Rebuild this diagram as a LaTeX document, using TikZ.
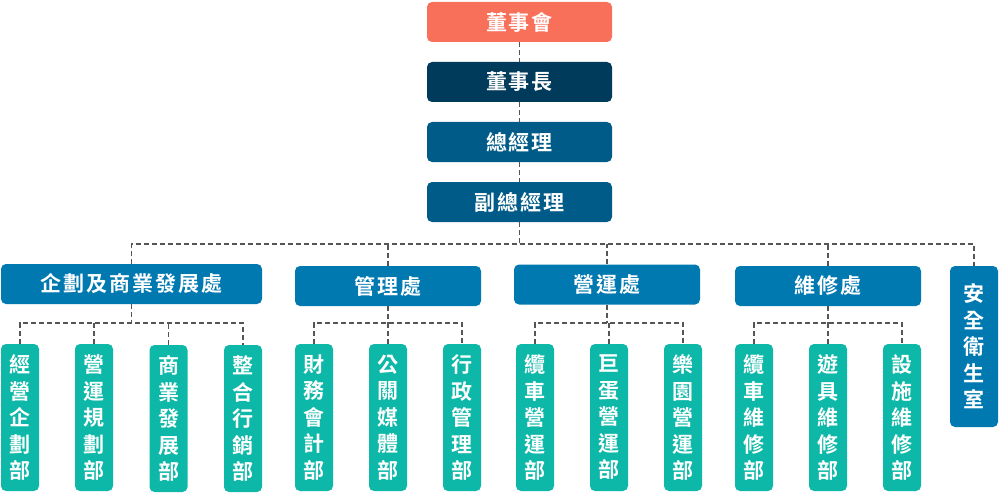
\documentclass[tikz,border=0pt]{standalone}
\usepackage{fontspec}
\setmainfont{Noto Sans CJK TC}[LetterSpace=9, BoldFont={Noto Sans CJK TC Bold}]
\newfontfamily\vt{Noto Sans CJK TC}[BoldFont={Noto Sans CJK TC Bold}]
\definecolor{cBoard}{HTML}{F9705A}
\definecolor{cChair}{HTML}{003B5C}
\definecolor{cGM}{HTML}{005B88}
\definecolor{cDiv}{HTML}{0079B1}
\definecolor{cDept}{HTML}{0DB8A8}
\definecolor{lineGray}{HTML}{555555}
\begin{document}
\begin{tikzpicture}[x=1pt,y=-1pt,
  box/.style={rectangle, rounded corners=5pt, inner sep=0pt, text=white,
    font=\bfseries\fontsize{21}{24}\selectfont},
  topbox/.style={box, minimum width=185pt, minimum height=40pt},
  divbox/.style={box, fill=cDiv, minimum height=40pt},
  vbox/.style={box, align=center, minimum width=38pt,
    font=\vt\bfseries\fontsize{21}{26.5}\selectfont},
  deptbox/.style={vbox, fill=cDept, minimum height=147pt},
  link/.style={draw=lineGray, line width=1.6pt, dash pattern=on 5pt off 3pt}
]
\useasboundingbox (0,0) rectangle (1003,500);

% top chain
\node[topbox, fill=cBoard] (n1) at (519.5,22) {董事會};
\node[topbox, fill=cChair] (n2) at (519.5,82) {董事長};
\node[topbox, fill=cGM] (n3) at (519.5,142) {總經理};
\node[topbox, fill=cGM] (n4) at (519.5,202) {副總經理};

% divisions
\node[divbox, minimum width=261pt] (d1) at (131.5,284) {企劃及商業發展處};
\node[divbox, minimum width=186pt] (d2) at (388,286) {管理處};
\node[divbox, minimum width=186pt] (d3) at (607,284.5) {營運處};
\node[divbox, minimum width=186pt] (d4) at (828,286) {維修處};
\node[vbox, fill=cDiv, minimum width=48pt, minimum height=161pt] (d5) at (974,346.5) {安\\全\\衛\\生\\室};

% departments
\node[deptbox] (e11) at (20,417.5) {經\\營\\企\\劃\\部};
\node[deptbox] (e12) at (94,417.5) {營\\運\\規\\劃\\部};
\node[deptbox] (e13) at (168.5,418.5) {商\\業\\發\\展\\部};
\node[deptbox] (e14) at (243,418.5) {整\\合\\行\\銷\\部};

\node[deptbox] (e21) at (314,417.5) {財\\務\\會\\計\\部};
\node[deptbox] (e22) at (388,417.5) {公\\關\\媒\\體\\部};
\node[deptbox] (e23) at (462,417.5) {行\\政\\管\\理\\部};

\node[deptbox] (e31) at (535,417.5) {纜\\車\\營\\運\\部};
\node[deptbox] (e32) at (609,417.5) {巨\\蛋\\營\\運\\部};
\node[deptbox] (e33) at (683,417.5) {樂\\園\\營\\運\\部};

\node[deptbox] (e41) at (754,417.5) {纜\\車\\維\\修\\部};
\node[deptbox] (e42) at (828,417.5) {遊\\具\\維\\修\\部};
\node[deptbox] (e43) at (902,417.5) {設\\施\\維\\修\\部};

% connectors
\coordinate (bar) at (519.5,244);
\coordinate (sub) at (0,323);
\draw[link] (n1.south) -- (n2.north);
\draw[link] (n2.south) -- (n3.north);
\draw[link] (n3.south) -- (n4.north);
\draw[link] (n4.south) -- (n4.south |- bar);
\draw[link] (d1.north) -- (d1.north |- bar) -- (d5.north |- bar) -- (d5.north);
\foreach \n in {d2,d3,d4} \draw[link] (\n.north) -- (\n.north |- bar);

\draw[link] (d1.south) -- (d1.south |- sub);
\draw[link] (e11.north) -- (e11.north |- sub) -- (e14.north |- sub) -- (e14.north);
\foreach \n in {e12,e13} \draw[link] (\n.north) -- (\n.north |- sub);

\draw[link] (d2.south) -- (d2.south |- sub);
\draw[link] (e21.north) -- (e21.north |- sub) -- (e23.north |- sub) -- (e23.north);
\draw[link] (e22.north) -- (e22.north |- sub);

\draw[link] (d3.south) -- (d3.south |- sub);
\draw[link] (e31.north) -- (e31.north |- sub) -- (e33.north |- sub) -- (e33.north);
\draw[link] (e32.north) -- (e32.north |- sub);

\draw[link] (d4.south) -- (d4.south |- sub);
\draw[link] (e41.north) -- (e41.north |- sub) -- (e43.north |- sub) -- (e43.north);
\draw[link] (e42.north) -- (e42.north |- sub);
\end{tikzpicture}
\end{document}
